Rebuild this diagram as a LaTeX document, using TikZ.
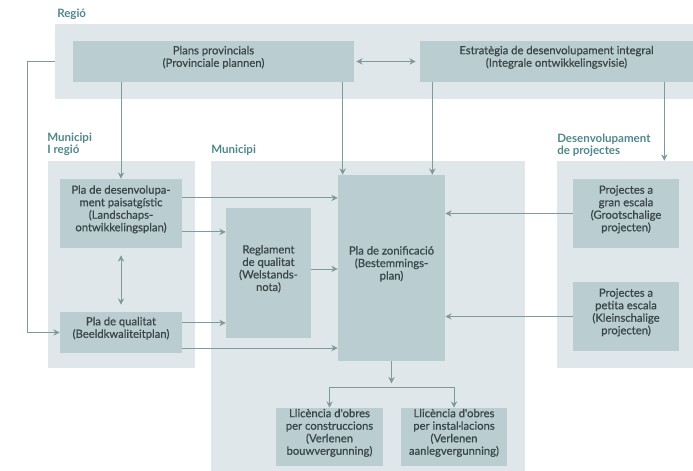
\documentclass[tikz,border=0pt]{standalone}
\usepackage{fontspec}
\setmainfont{Lato}
\newfontfamily\planfont{Lato}[FakeBold=0.7]
\usetikzlibrary{arrows.meta, positioning, fit}
\definecolor{panelgray}{HTML}{DFE7EA}
\definecolor{boxgray}{HTML}{BACDD0}
\definecolor{labelteal}{HTML}{4F878C}
\definecolor{linegray}{HTML}{7E9A9B}
\definecolor{textgray}{HTML}{3A4648}

\begin{document}
\begin{tikzpicture}[x=0.025cm, y=-0.025cm]
\tikzset{panel/.style = {fill=panelgray, inner sep=0pt},
	plan/.style = {fill=boxgray, inner sep=0pt, align=center, text=textgray, font=\planfont\fontsize{8}{8.9}\selectfont},
	title/.style = {anchor=south west, inner sep=0pt, align=left, text=labelteal, font=\fontsize{8.2}{8.9}\selectfont\bfseries},
	edge/.style = {draw=linegray, line width=0.6pt, -{Stealth[length=4.5pt, width=4.5pt]}},
	dedge/.style = {edge, {Stealth[length=4.5pt, width=4.5pt]}-{Stealth[length=4.5pt, width=4.5pt]}},
	line/.style = {draw=linegray, line width=0.6pt}}
\useasboundingbox (0,0) rectangle (693,471);
            % panels
	\node[panel, fit={(55,24) (693,99)}] (region) {};
	\node[panel, fit={(48,161) (195,368)}] (munreg) {};
	\node[panel, fit={(211,161) (525,471)}] (mun) {};
	\node[panel, fit={(557,161) (693,368)}] (desproj) {};
	\node[title] (tregion) at (57,20) {Regió};
	\node[title] (tmunreg) at (47,156) {Municipi\\I regió};
	\node[title] (tmun) at (211,156) {Municipi};
	\node[title] (tdesproj) at (557,157) {Desenvolupament\\de projectes};
            % plans
	\node[plan, fit={(73,41) (354,82)}] (plans) {Plans provincials\\(Provinciale plannen)};
	\node[plan, fit={(420,41) (693,82)}] (estr) {Estratègia de desenvolupament integral\\(Integrale ontwikkelingsvisie)};
	\node[plan, fit={(60,179) (182,248)}] (desenv) {Pla de desenvolupa-\\ment paisatgístic\\(Landschaps-\\ontwikkelingsplan)};
	\node[plan, fit={(60,312) (182,353)}] (qualitat) {Pla de qualitat\\(Beeldkwaliteitplan)};
	\node[plan, fit={(226,208) (311,338)}] (reglament) {Reglament\\de qualitat\\(Welstands-\\nota)};
	\node[plan, fit={(338,175) (445,361)}] (zonif) {Pla de zonificació\\(Bestemmings-\\plan)};
	\node[plan, fit={(573,179) (679,248)}] (gran) {Projectes a\\gran escala\\(Grootschalige\\projecten)};
	\node[plan, fit={(573,282) (679,351)}] (petita) {Projectes a\\petita escala\\(Kleinschalige\\projecten)};
	\node[plan, fit={(276,408) (383,466)}] (llic1) {Llicència d'obres\\per construccions\\(Verlenen\\bouwvergunning)};
	\node[plan, fit={(401,408) (507,466)}] (llic2) {Llicència d'obres\\per instal·lacions\\(Verlenen\\aanlegvergunning)};
	\coordinate (zin1) at ([xshift=0.125cm]zonif.north west);
	\coordinate (zin2) at ([xshift=-0.325cm]zonif.north east);
	\coordinate (dpin) at ([xshift=-0.725cm]desproj.north east);
	\coordinate (split) at ([yshift=-0.65cm]zonif.south);
            % edges
	\draw[dedge, shorten <=0.05cm, shorten >=0.1cm] (plans) -- (estr);
	\draw[edge] (region.west |- plans) -- ++(-27,0) |- (qualitat);
	\draw[edge] (plans.south -| desenv.north) -- (desenv.north);
	\draw[edge] (plans.south -| zin1) -- (zin1);
	\draw[edge] (estr.south -| zin2) -- (zin2);
	\draw[edge] (estr.south -| dpin) -- (dpin);
	\draw[dedge, shorten <=0.175cm, shorten >=0.175cm] (desenv) -- (qualitat);
	\draw[edge] ([yshift=0.39cm]desenv.east) -- ([yshift=0.39cm]desenv.east -| zonif.west);
	\draw[edge] ([yshift=-0.46cm]desenv.east) -- ([yshift=-0.46cm]desenv.east -| reglament.west);
	\draw[edge] ([yshift=0.1cm]reglament.east) -- ([yshift=0.1cm]reglament.east -| zonif.west);
	\draw[edge] ([yshift=0.24cm]qualitat.east) -- ([yshift=0.24cm]qualitat.east -| reglament.west);
	\draw[edge] ([yshift=-0.39cm]qualitat.east) -- ([yshift=-0.39cm]qualitat.east -| zonif.west);
	\draw[edge] (gran.west) -- (gran.west -| zonif.east);
	\draw[edge] (petita.west) -- (petita.west -| zonif.east);
	\draw[edge, shorten >=0.1cm] (zonif.south) -- (split);
	\draw[line] (split -| llic1.north) -- (split -| llic2.north);
	\draw[edge] (split -| llic1.north) -- (llic1.north);
	\draw[edge] (split -| llic2.north) -- (llic2.north);
\end{tikzpicture}
\end{document}
